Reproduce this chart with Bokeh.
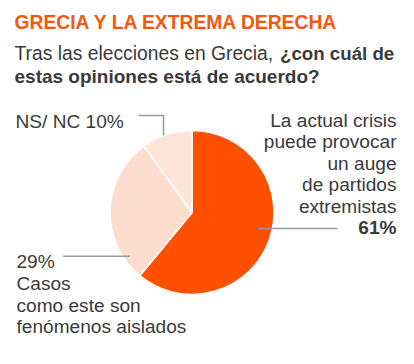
import math
from bokeh.plotting import figure
from bokeh.models import Range1d, ColumnDataSource
from bokeh.core.properties import value
from bokeh.embed import file_html
from bokeh.resources import INLINE

# ---- data ----
categories = ["La actual crisis puede provocar un auge de partidos extremistas",
              "Casos como este son fenómenos aislados",
              "NS/ NC"]
shares = [61, 29, 10]
colors = ["#FF5000", "#FCDCCD", "#FDE4D8"]

title_text = "GRECIA Y LA EXTREMA DERECHA"
sub1_normal = "Tras las elecciones en Grecia,"
sub1_bold = "¿con cuál de"
sub2_bold = "estas opiniones está de acuerdo?"

label_right = ["La actual crisis", "puede provocar", "un auge", "de partidos", "extremistas"]
label_right_pct = "61%"
label_left = ["29%", "Casos", "como este son", "fenómenos aislados"]
label_ns = "NS/ NC 10%"

W, H = 414, 364
FONT = value("Liberation Sans")
TXT = "#3a3a3a"
LINE = "#9a9a9a"
TS = "19.1px"
DY = 7  # baseline compensation


def Y(page_y):
    return H - page_y


def TY(page_y):
    return H - page_y + DY


p = figure(width=W, height=H, output_backend="svg", toolbar_location=None,
           x_range=Range1d(0, W), y_range=Range1d(0, H), min_border=0)
p.axis.visible = False
p.grid.visible = False
p.outline_line_color = None
p.background_fill_color = "white"
p.border_fill_color = "white"

# ---- pie ----
cx, cy, r = 191.5, Y(212), 82
total = sum(shares)
starts, ends = [], []
acc = 0
for s in shares:
    starts.append(math.pi / 2 - 2 * math.pi * acc / total)
    acc += s
    ends.append(math.pi / 2 - 2 * math.pi * acc / total)
src = ColumnDataSource(dict(start=starts, end=ends, color=colors,
                            x=[cx] * 3, y=[cy] * 3))
p.wedge(x="x", y="y", radius=r, start_angle="start", end_angle="end",
        direction="clock", fill_color="color", line_color="white",
        line_width=1.5, source=src)

# ---- leader lines ----
p.line([138, 163, 163], [Y(115), Y(115), Y(135)], line_color=LINE, line_width=1.5)
p.line([258, 337], [Y(228), Y(228)], line_color=LINE, line_width=1.5)
p.line([62.7, 129.3], [Y(255.7), Y(255.7)], line_color=LINE, line_width=1.5)

# ---- titles ----
p.text(x=[14], y=[TY(29.3)], text=[title_text], text_font=FONT, text_font_size="19.3px",
       text_font_style="bold", text_color="#F4580E", text_baseline="alphabetic")
p.text(x=[14], y=[TY(60)], text=[sub1_normal], text_font=FONT, text_font_size="19.3px",
       text_color=TXT, text_baseline="alphabetic")
p.text(x=[279.5], y=[TY(60)], text=[sub1_bold], text_font=FONT, text_font_size="18.7px",
       text_font_style="bold", text_color=TXT, text_baseline="alphabetic")
p.text(x=[14], y=[TY(82.5)], text=[sub2_bold], text_font=FONT, text_font_size="19px",
       text_font_style="bold", text_color=TXT, text_baseline="alphabetic")

# ---- labels ----
p.text(x=[15], y=[TY(127.7)], text=[label_ns], text_font=FONT, text_font_size=TS,
       text_color=TXT, text_baseline="alphabetic")

ry = [TY(126.7 + 21.5 * i) for i in range(len(label_right))]
p.text(x=[396] * len(label_right), y=ry, text=label_right, text_font=FONT,
       text_font_size=TS, text_color=TXT, text_align="right",
       text_baseline="alphabetic")
p.text(x=[396], y=[TY(126.7 + 21.5 * 5)], text=[label_right_pct], text_font=FONT,
       text_font_size=TS, text_font_style="bold", text_color=TXT,
       text_align="right", text_baseline="alphabetic")

ly = [TY(268.3 + 21.67 * i) for i in range(len(label_left))]
p.text(x=[16] * len(label_left), y=ly, text=label_left, text_font=FONT,
       text_font_size=TS, text_color=TXT, text_baseline="alphabetic")

open("out.html", "w").write(file_html(p, INLINE))
